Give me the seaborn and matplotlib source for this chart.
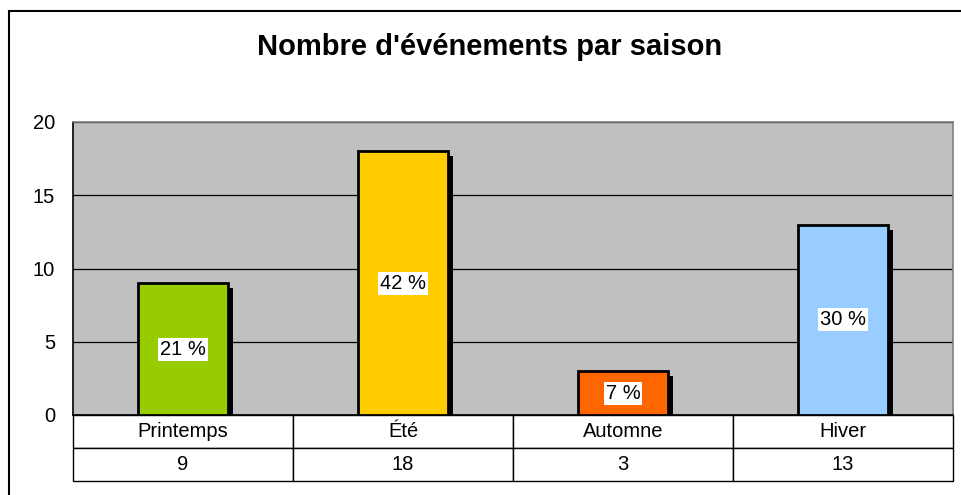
import matplotlib
matplotlib.use("Agg")
import matplotlib.pyplot as plt
import matplotlib.patheffects as pe
from matplotlib.patches import Rectangle
import pandas as pd
import seaborn as sns

# DATA
saisons = ["Printemps", "Été", "Automne", "Hiver"]
evenements = [9, 18, 3, 13]
pourcentages = ["21 %", "42 %", "7 %", "30 %"]
couleurs = ["#99CC00", "#FFCC00", "#FF6600", "#99CCFF"]

sns.set_style("white")
plt.rcParams["font.family"] = ["Liberation Sans", "DejaVu Sans"]
plt.rcParams["text.color"] = "black"
plt.rcParams["ytick.color"] = "black"

df = pd.DataFrame({"saison": saisons, "n": evenements})

fig = plt.figure(figsize=(9.61, 4.95), dpi=100)
ax = fig.add_axes([73 / 961, 80 / 495, 880 / 961, 293 / 495])
ax.set_facecolor("#C0C0C0")

sns.barplot(data=df, x="saison", y="n", hue="saison", palette=couleurs,
            legend=False, width=0.405, edgecolor="black", linewidth=2,
            saturation=1, ax=ax, zorder=3)

# drop shadow like the old Excel style
for p in ax.patches:
    p.set_path_effects([pe.SimplePatchShadow(offset=(3.6, -3.6), shadow_rgbFace="black", alpha=1),
                        pe.Normal()])

# percentage labels in white boxes
for i, (v, lab) in enumerate(zip(evenements, pourcentages)):
    ax.text(i, v / 2, lab, ha="center", va="center", fontsize=14.5, zorder=5,
            bbox=dict(facecolor="white", edgecolor="none", pad=1.5))

ax.set_ylim(0, 20)
ax.set_xlim(-0.5, 3.5)
ax.set_yticks([0, 5, 10, 15, 20])
ax.yaxis.grid(True, color="black", linewidth=0.9, zorder=1)
ax.set_axisbelow(True)
ax.tick_params(axis="y", direction="out", length=7, width=1, colors="black", labelsize=14.5, pad=6)
ax.tick_params(axis="x", bottom=False, labelbottom=False)
ax.set_xlabel("")
ax.set_ylabel("")
for side in ["left", "bottom"]:
    ax.spines[side].set_color("black")
    ax.spines[side].set_linewidth(1.2)
for side in ["top", "right"]:
    ax.spines[side].set_color("#808080")
    ax.spines[side].set_linewidth(1.2)

# data table under the axis
h = 66 / 293
tab = ax.table(cellText=[[str(v) for v in evenements]], colLabels=saisons,
               cellLoc="center", bbox=[0, -h, 1, h])
tab.auto_set_font_size(False)
tab.set_fontsize(14.5)
for cell in tab.get_celld().values():
    cell.set_edgecolor("black")
    cell.set_linewidth(1)
    cell.get_text().set_color("black")

fig.text(490 / 961, 1 - 47 / 495, "Nombre d'événements par saison",
         ha="center", va="center", fontsize=21, fontweight="bold", color="black")

# outer chart frame (only top and left visible)
fig.patches.append(Rectangle((9 / 961, -0.1), 1.2, 1.1 - 11 / 495, transform=fig.transFigure,
                             fill=False, edgecolor="black", linewidth=1.5))

fig.savefig("out.png", dpi=100)
